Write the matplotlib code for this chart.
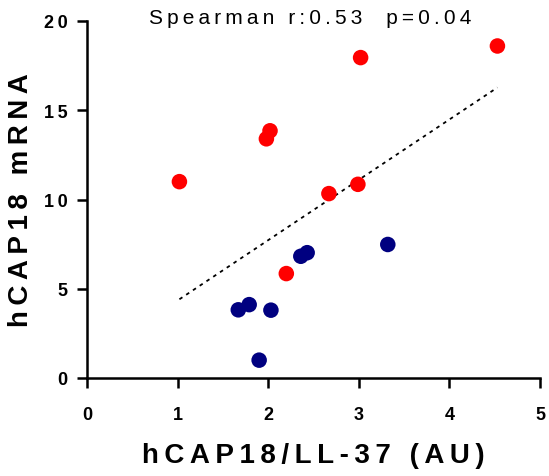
import numpy as np
import matplotlib
matplotlib.use('Agg')
import matplotlib.pyplot as plt

plt.rcParams['font.family'] = ['Liberation Sans', 'DejaVu Sans']

# data
red_x = [1.02, 1.98, 2.02, 3.02, 4.53, 2.99, 2.67, 2.20]
red_y = [11.0, 13.4, 13.85, 17.95, 18.6, 10.85, 10.33, 5.85]
blue_x = [3.32, 2.43, 2.36, 1.67, 1.79, 2.03, 1.90]
blue_y = [7.48, 7.02, 6.82, 3.82, 4.11, 3.80, 1.00]

x_ticks = [0, 1, 2, 3, 4, 5]
y_ticks = [0, 5, 10, 15, 20]
title = 'Spearman r:0.53  p=0.04'
xlab = 'hCAP18/LL-37 (AU)'
ylab = 'hCAP18 mRNA'

THIN = '\u2009'


def spaced(s, sep=THIN):
    # fake letter spacing like the Prism export
    return sep.join(list(s))


fig = plt.figure(figsize=(5.49, 4.77), dpi=100)
ax = fig.add_axes([87 / 549, 98 / 477, 453 / 549, 357 / 477])

ax.scatter(red_x, red_y, s=125, color='#ff0000', edgecolors='none', zorder=3, clip_on=False)
ax.scatter(blue_x, blue_y, s=125, color='#000080', edgecolors='none', zorder=3, clip_on=False)

# linear fit over all points, drawn across the x range of the data
all_x = np.array(red_x + blue_x)
all_y = np.array(red_y + blue_y)
k, b = np.polyfit(all_x, all_y, 1)
fx = np.array([all_x.min(), all_x.max()])
ax.plot(fx, k * fx + b, color='black', lw=1.3, linestyle=(0, (2, 2.5)), zorder=2)

ax.set_xlim(0, 5)
ax.set_ylim(0, 20)
ax.set_xticks(x_ticks)
ax.set_yticks(y_ticks)
ax.set_xticklabels([spaced(str(t)) for t in x_ticks])
ax.set_yticklabels([spaced(str(t)) for t in y_ticks])
for sp in ['top', 'right']:
    ax.spines[sp].set_visible(False)
for sp in ['left', 'bottom']:
    ax.spines[sp].set_linewidth(1.8)
ax.tick_params(width=1.8, length=7, labelsize=13)
ax.tick_params(axis='x', pad=13)
ax.tick_params(axis='y', pad=7)
for lab in ax.get_xticklabels() + ax.get_yticklabels():
    lab.set_fontweight('bold')

ax.set_xlabel(spaced(xlab), fontsize=20, fontweight='bold', labelpad=14)
ax.set_ylabel(spaced(ylab), fontsize=20, fontweight='bold', labelpad=7)
fig.text(310 / 549, 1 - 18 / 477, spaced(title), fontsize=15, ha='center', va='center')

fig.savefig('out.png', dpi=100)
